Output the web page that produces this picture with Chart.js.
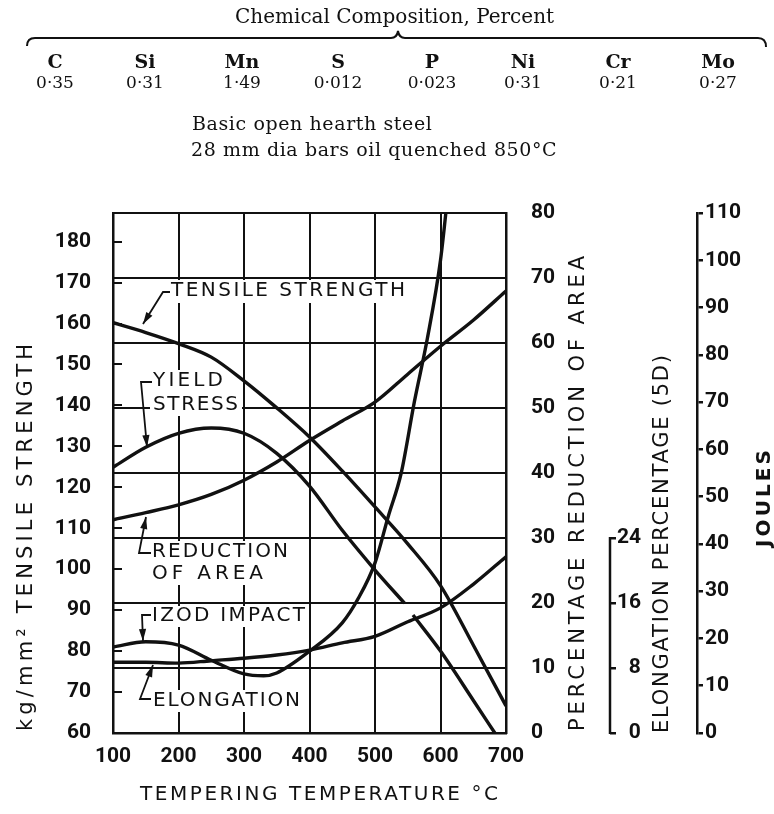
<!DOCTYPE html>
<html>
<head>
<meta charset="utf-8">
<script src="https://cdn.jsdelivr.net/npm/chart.js@4.4.1/dist/chart.umd.min.js"></script>
<style>
  body { margin: 0; background: #fff; }
  #wrap { position: relative; width: 774px; height: 814px; overflow: hidden; }
  #chart { position: absolute; left: 0; top: 0; }
  .hd { position: absolute; font-family: "DejaVu Serif", serif; color: #111; white-space: nowrap; }
  .sub { font-size: 19px; letter-spacing: 0.6px; }
  .el { position: absolute; top: 51px; width: 90px; text-align: center; font-family: "DejaVu Serif", serif; color: #111; }
  .el b { display: block; font-size: 19px; line-height: 20px; }
  .el span { display: block; font-size: 17px; line-height: 22px; }
</style>
</head>
<body>
<div id="wrap">
  <canvas id="chart" width="774" height="814"></canvas>
  <div class="hd" style="left:235px; top:4px; font-size:20px;">Chemical Composition, Percent</div>
  <svg style="position:absolute; left:0; top:0;" width="774" height="60">
    <path d="M27 46 Q27 38 35 38 L391 38 Q397 38 398 31 Q399 38 405 38 L758 38 Q766 38 766 47" fill="none" stroke="#111" stroke-width="2"/>
  </svg>
  <div id="elements"></div>
  <div class="hd sub" style="left:192px; top:112px;">Basic open hearth steel</div>
  <div class="hd sub" style="left:191px; top:138px;">28 mm dia bars oil quenched 850°C</div>
</div>
<script>
// composition
const elementNames = ["C", "Si", "Mn", "S", "P", "Ni", "Cr", "Mo"];
const elementValues = ["0·35", "0·31", "1·49", "0·012", "0·023", "0·31", "0·21", "0·27"];
const elementCenters = [55, 145, 242, 338, 432, 523, 618, 718];

// curves (tempering temperature, °C)
const temps = [100, 150, 200, 250, 300, 350, 400, 450, 500, 550, 600, 650, 700];
const tensile = [160.2, 157.8, 155.1, 151.8, 146, 139.4, 132.3, 124, 115.2, 106.2, 96, 81.5, 66.6];
const reductionOfArea = [32.8, 33.9, 35.1, 36.7, 38.9, 41.7, 45, 48, 50.9, 55.2, 59.5, 63.5, 68];
const elongation = [8.7, 8.7, 8.6, 8.9, 9.2, 9.6, 10.2, 11.1, 11.9, 13.7, 15.4, 18.3, 21.7];

const yieldTemps = [100, 150, 200, 250, 300, 350, 400, 450, 500, 545, 552, 558, 600, 650, 683];
const yieldStress = [124.9, 129.8, 133.2, 134.5, 133.2, 128.3, 120.3, 109.5, 99.8, 91.7, null, 88.8, 80, 68, 60];

const izodTemps = [100, 150, 200, 250, 300, 330, 350, 400, 450, 475, 500, 520, 540, 560, 580, 600, 612];
const izodImpact = [18.2, 19.3, 18.6, 15.4, 12.5, 12.1, 12.7, 17.3, 23.3, 28.6, 36, 45.7, 55, 70, 83.5, 100, 115];

// tick labels
const tempTicks = [100, 200, 300, 400, 500, 600, 700];
const strengthTicks = [60, 70, 80, 90, 100, 110, 120, 130, 140, 150, 160, 170, 180];
const areaTicks = [0, 10, 20, 30, 40, 50, 60, 70, 80];
const elongationTicks = [0, 8, 16, 24];
const joulesTicks = [0, 10, 20, 30, 40, 50, 60, 70, 80, 90, 100, 110];

document.getElementById("elements").innerHTML = elementNames.map((n, i) =>
  `<div class="el" style="left:${elementCenters[i] - 45}px"><b>${n}</b><span>${elementValues[i]}</span></div>`
).join("");

const ink = "#111";
const tickFont = { family: "Roboto", weight: "bold", size: 21 };
const pts = (xs, ys) => xs.map((x, i) => ({ x: x, y: ys[i] }));
const setTicks = list => scale => { scale.ticks = list.map(v => ({ value: v })); };

function spaced(ctx, text, x, y, o) {
  ctx.save();
  ctx.translate(x, y);
  if (o.rot) ctx.rotate(o.rot);
  ctx.font = o.font;
  ctx.letterSpacing = "0px";
  let sp = 0;
  if (o.len) sp = Math.max(0, (o.len - ctx.measureText(text).width) / (text.length - 1));
  ctx.letterSpacing = sp + "px";
  ctx.textAlign = o.align || "left";
  ctx.textBaseline = "middle";
  ctx.fillStyle = ink;
  ctx.fillText(text, 0, 0);
  ctx.restore();
}

function leader(ctx, p) {
  ctx.save();
  ctx.strokeStyle = ink;
  ctx.fillStyle = ink;
  ctx.lineWidth = 1.8;
  ctx.beginPath();
  ctx.moveTo(p[0][0], p[0][1]);
  for (let i = 1; i < p.length; i++) ctx.lineTo(p[i][0], p[i][1]);
  ctx.stroke();
  const [x1, y1] = p[p.length - 2], [x2, y2] = p[p.length - 1];
  const a = Math.atan2(y2 - y1, x2 - x1);
  ctx.translate(x2, y2);
  ctx.rotate(a);
  ctx.beginPath();
  ctx.moveTo(0, 0);
  ctx.lineTo(-12, -3.6);
  ctx.lineTo(-12, 3.6);
  ctx.closePath();
  ctx.fill();
  ctx.restore();
}

// curve labels: [text, left, centre y, length]
const labels = [
  ["TENSILE STRENGTH", 171, 291, 234],
  ["YIELD", 153, 381, 70],
  ["STRESS", 153, 405, 85],
  ["REDUCTION", 152, 552, 136],
  ["OF AREA", 152, 574, 111],
  ["IZOD IMPACT", 152, 616, 153],
  ["ELONGATION", 153, 701, 147]
];
const labelBoxes = [[166, 280, 242, 23], [150, 370, 92, 46], [148, 541, 144, 44], [148, 606, 160, 21], [148, 690, 155, 22]];
const leaders = [
  [[170, 292], [163, 292], [143, 324]],
  [[152, 382], [141, 382], [147, 447]],
  [[151, 553], [139, 553], [146, 517]],
  [[151, 615], [142, 615], [143, 641]],
  [[151, 699], [140, 699], [153, 665]]
];

const decor = {
  id: "decor",
  beforeDatasetsDraw(chart) {
    const ctx = chart.ctx;
    ctx.save();
    ctx.fillStyle = "#fff";
    labelBoxes.forEach(b => ctx.fillRect(b[0], b[1], b[2], b[3]));
    ctx.restore();
  },
  afterDatasetsDraw(chart) {
    const ctx = chart.ctx;
    labels.forEach(l => spaced(ctx, l[0], l[1], l[2], { font: "20px 'DejaVu Sans'", len: l[3] }));
    leaders.forEach(p => leader(ctx, p));

    // short elongation scale line, 0 to 24 only
    const el = chart.scales.el;
    ctx.save();
    ctx.strokeStyle = ink;
    ctx.lineWidth = 2.5;
    ctx.beginPath();
    ctx.moveTo(el.left, el.getPixelForValue(0) + 1);
    ctx.lineTo(el.left, el.getPixelForValue(24) - 1);
    ctx.stroke();
    ctx.restore();

    const up = -Math.PI / 2;
    spaced(ctx, "kg/mm² TENSILE STRENGTH", 27, 731, { font: "21px 'DejaVu Sans'", len: 387, rot: up });
    spaced(ctx, "TEMPERING TEMPERATURE °C", 140, 795, { font: "20px 'DejaVu Sans'", len: 358 });
    spaced(ctx, "PERCENTAGE REDUCTION OF AREA", 579, 731, { font: "21px 'DejaVu Sans'", len: 475, rot: up });
    spaced(ctx, "ELONGATION PERCENTAGE (5D)", 663, 733, { font: "21px 'DejaVu Sans'", len: 378, rot: up });
    spaced(ctx, "JOULES", 765, 547, { font: "bold 20px 'DejaVu Sans'", len: 97, rot: up });
  }
};

const line = { borderColor: ink, borderWidth: 3.4, pointRadius: 0, fill: false, cubicInterpolationMode: "monotone" };

new Chart(document.getElementById("chart"), {
  type: "line",
  data: {
    datasets: [
      { ...line, label: "Tensile strength", data: pts(temps, tensile), yAxisID: "y" },
      { ...line, label: "Yield stress", data: pts(yieldTemps, yieldStress), yAxisID: "y" },
      { ...line, label: "Reduction of area", data: pts(temps, reductionOfArea), yAxisID: "ra" },
      { ...line, label: "Elongation", data: pts(temps, elongation), yAxisID: "el" },
      { ...line, label: "Izod impact", data: pts(izodTemps, izodImpact), yAxisID: "j" }
    ]
  },
  options: {
    responsive: false,
    devicePixelRatio: 1,
    animation: false,
    events: [],
    layout: { padding: { top: 213, left: 0, right: 0, bottom: 0 } },
    plugins: { legend: { display: false }, tooltip: { enabled: false } },
    scales: {
      x: {
        type: "linear", position: "bottom", min: 100, max: 700,
        afterBuildTicks: setTicks(tempTicks),
        afterFit: s => { s.height = 81; },
        grid: { color: ink, lineWidth: 2, drawTicks: false },
        border: { color: ink, width: 2.5 },
        ticks: { font: tickFont, color: ink, padding: 11, maxRotation: 0 }
      },
      y: {
        type: "linear", position: "left", min: 60, max: 187,
        afterBuildTicks: setTicks(strengthTicks),
        afterFit: s => { s.width = 113; },
        grid: { drawOnChartArea: false, color: ink, lineWidth: 2, tickLength: -9 },
        border: { color: ink, width: 2.5 },
        ticks: { font: tickFont, color: ink, padding: 31 }
      },
      ra: {
        type: "linear", position: "right", weight: 0, min: 0, max: 80,
        afterBuildTicks: setTicks(areaTicks),
        afterFit: s => { s.width = 104; },
        grid: { color: ink, lineWidth: 2, drawTicks: false },
        border: { color: ink, width: 2.5 },
        ticks: { font: tickFont, color: ink, padding: 25, crossAlign: "near" }
      },
      el: {
        type: "linear", position: "right", weight: 1, min: 0, max: 64,
        afterBuildTicks: setTicks(elongationTicks),
        afterFit: s => { s.width = 87; },
        grid: { drawOnChartArea: false, color: ink, lineWidth: 2.5, tickLength: 6 },
        border: { display: false },
        ticks: {
          font: tickFont, color: ink, padding: 1, crossAlign: "near",
          callback: v => (v < 10 ? "\u2007" : "") + v
        }
      },
      j: {
        type: "linear", position: "right", weight: 2, min: 0, max: 110,
        afterBuildTicks: setTicks(joulesTicks),
        afterFit: s => { s.width = 77; },
        grid: { drawOnChartArea: false, color: ink, lineWidth: 2.5, tickLength: 6 },
        border: { color: ink, width: 2.5 },
        ticks: { font: tickFont, color: ink, padding: 2, crossAlign: "near" }
      }
    }
  },
  plugins: [decor]
});
</script>
</body>
</html>
